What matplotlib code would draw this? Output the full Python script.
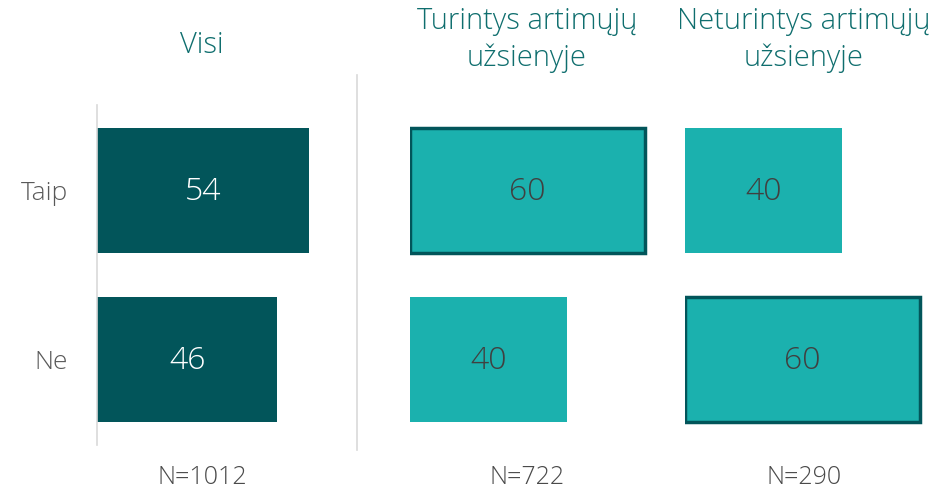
import matplotlib
matplotlib.use("Agg")
import matplotlib.pyplot as plt
from matplotlib.lines import Line2D

categories = ["Taip", "Ne"]
panel_titles = ["Visi", "Turintys artimųjų\nužsienyje", "Neturintys artimųjų\nužsienyje"]
panel_values = [[54, 46], [60, 40], [40, 60]]
panel_n = ["N=1012", "N=722", "N=290"]
highlight = [[False, False], [True, False], [False, True]]

DARK = "#02555A"
LIGHT = "#1BB1AE"
TITLE_C = "#0F6E6E"
GREY_T = "#595959"
VAL_DARK = "#404040"

plt.rcParams['font.family'] = ['Open Sans', 'DejaVu Sans']

W, H = 938, 492
fig = plt.figure(figsize=(W / 100, H / 100), dpi=100)

px_per_unit = 3.92
xmax = 64
lefts = [97, 410, 685]
centers = [202, 527, 804]
top_px, bot_px = 105, 445

for i, (vals, title, n, hl) in enumerate(zip(panel_values, panel_titles, panel_n, highlight)):
    wpx = px_per_unit * xmax
    ax = fig.add_axes([lefts[i] / W, 1 - bot_px / H, wpx / W, (bot_px - top_px) / H])
    ypos = list(range(len(categories)))
    color = DARK if i == 0 else LIGHT
    for y, v, h in zip(ypos, vals, hl):
        ax.barh(y, v, height=0.74, color=color,
                edgecolor=DARK if h else 'none', linewidth=2.5 if h else 0)
        ax.text(v / 2, y + 0.01, str(v), ha='center', va='center', fontsize=23,
                fontweight='light',
                color='white' if i == 0 else VAL_DARK)
    ax.set_xlim(0, xmax)
    ax.set_ylim(1.506, -0.506)
    ax.set_xticks([])
    for s in ['top', 'right', 'bottom']:
        ax.spines[s].set_visible(False)
    if i == 0:
        ax.spines['left'].set_color('#D9D9D9')
        ax.spines['left'].set_linewidth(1.2)
        ax.set_yticks(ypos)
        ax.set_yticklabels(categories, fontsize=19, color=GREY_T, fontweight='light')
        ax.tick_params(axis='y', length=0, pad=21)
    else:
        ax.spines['left'].set_visible(False)
        ax.set_yticks([])
    ax.patch.set_alpha(0)
    # titles
    ty = 45 if i == 0 else 40
    fig.text(centers[i] / W, 1 - ty / H, title, ha='center', va='center',
             fontsize=21, color=TITLE_C, fontweight='light', linespacing=1.32)
    fig.text(centers[i] / W, 1 - 478 / H, n, ha='center', va='center',
             fontsize=18, color="#4A4A4A", fontweight='light')

fig.add_artist(Line2D([357 / W, 357 / W], [1 - 450 / H, 1 - 75 / H],
                      transform=fig.transFigure, color='#D9D9D9', linewidth=1.2))

fig.savefig("out.png", dpi=100, facecolor='white')
